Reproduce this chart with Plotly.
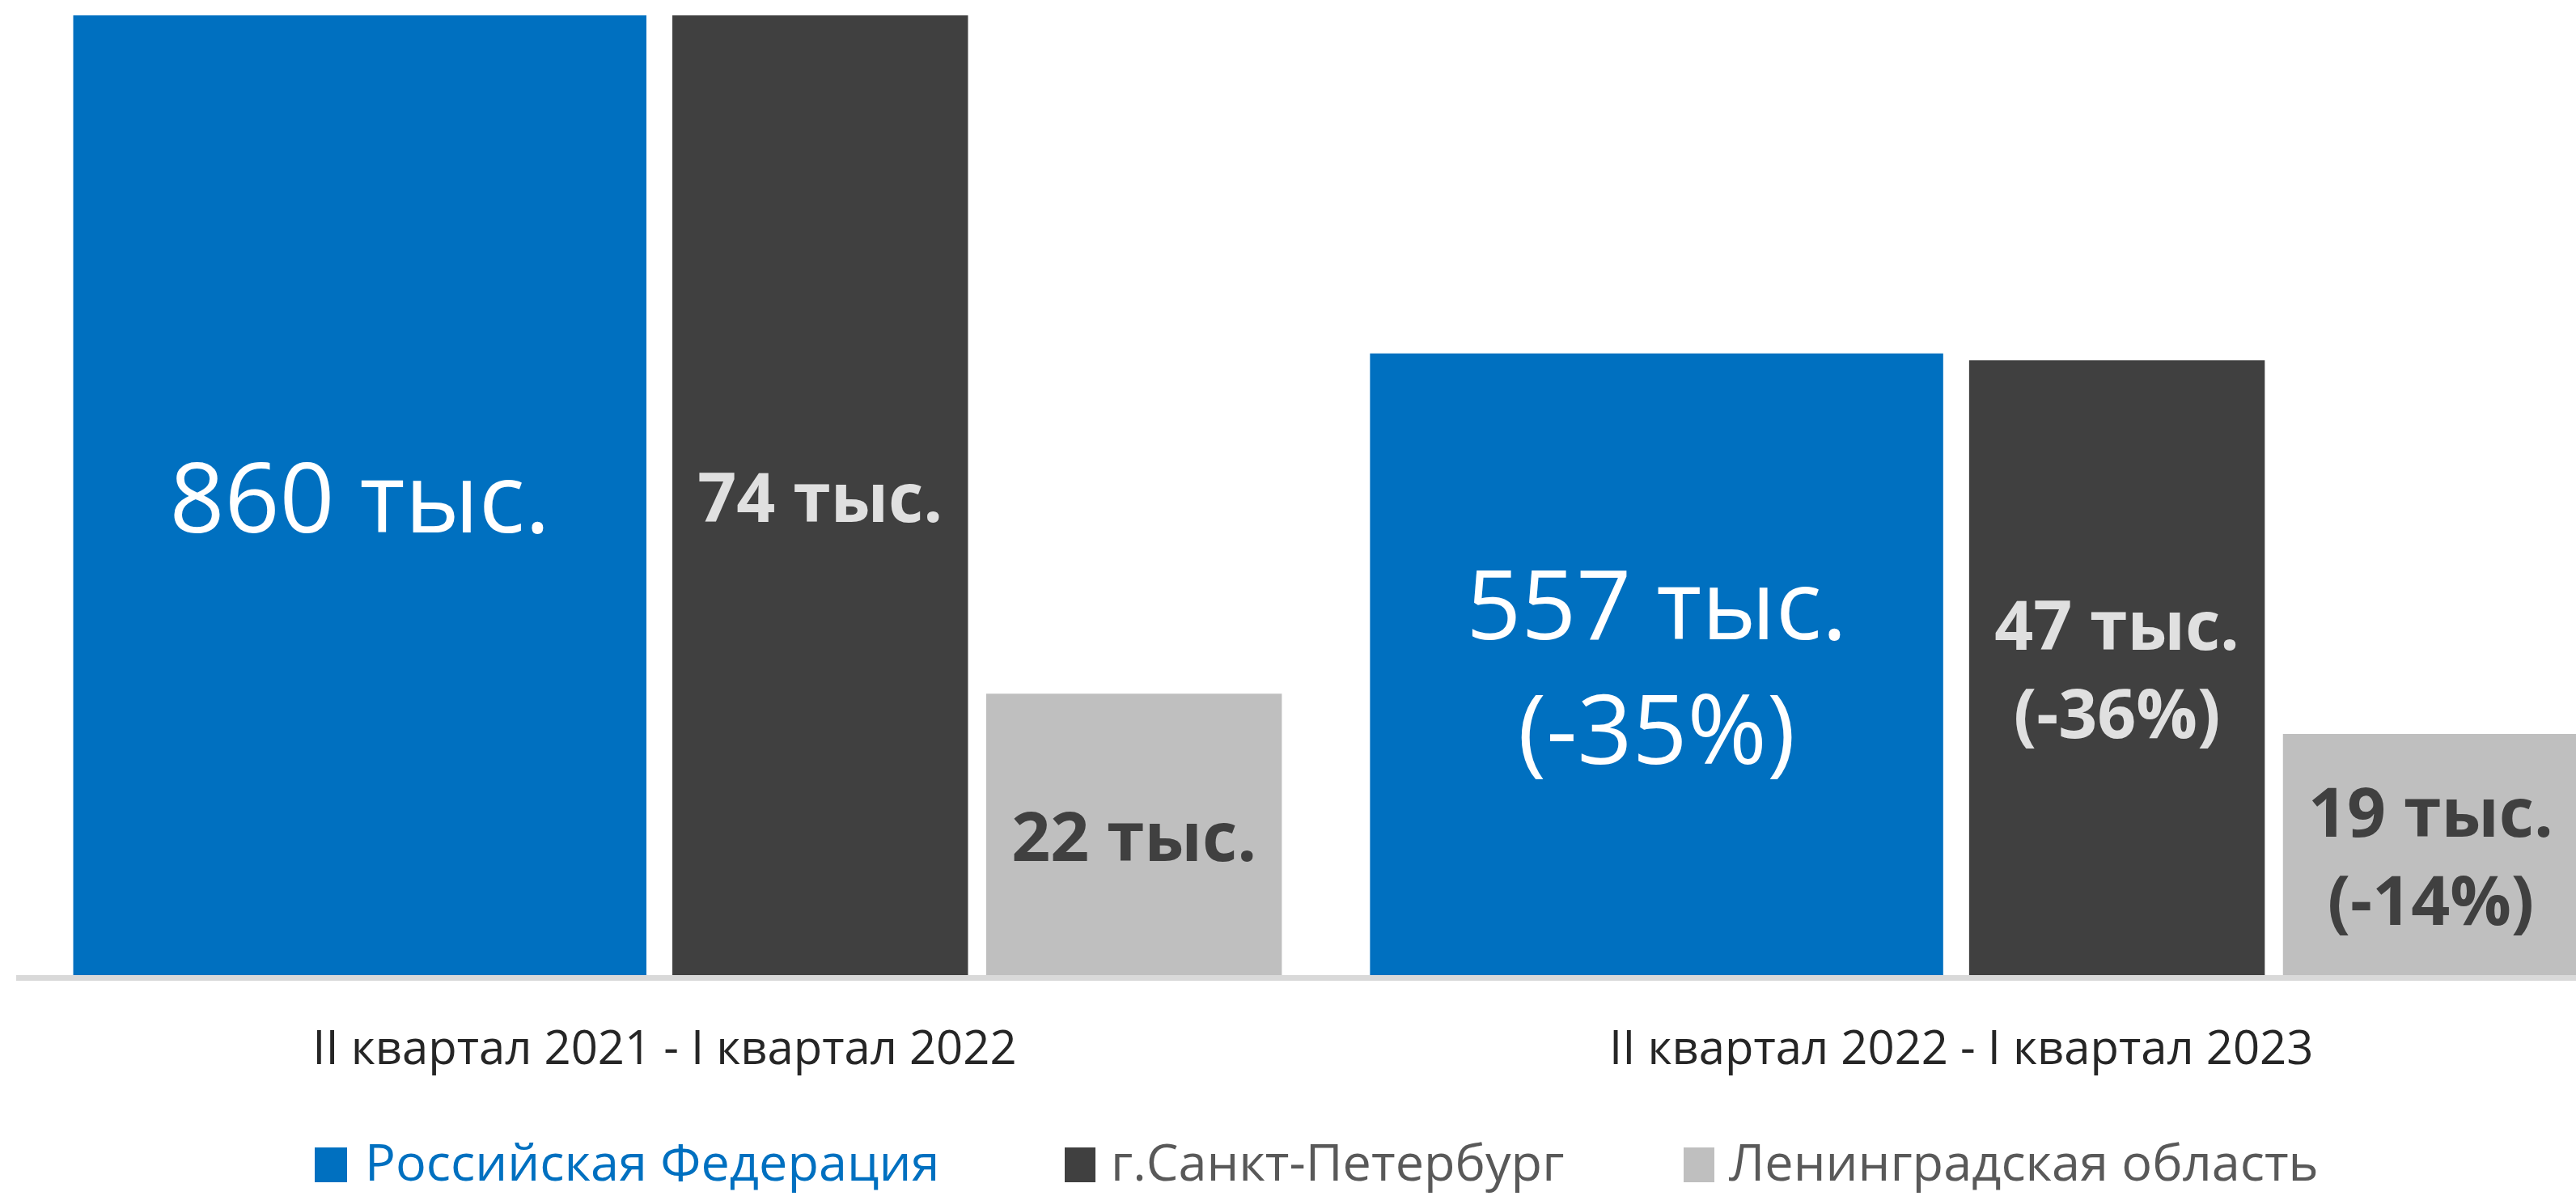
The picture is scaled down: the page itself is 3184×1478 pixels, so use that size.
import plotly.graph_objects as go

# ---- data ----
categories = ["II квартал 2021 - I квартал 2022", "II квартал 2022 - I квартал 2023"]
series_names = ["Российская Федерация", "г.Санкт-Петербург", "Ленинградская область"]
rf_values = [860, 557]          # тыс.
spb_values = [74, 47.4]         # тыс.
lo_values = [21.7, 18.6]        # тыс.
rf_labels = ["860 тыс.", "557 тыс.<br>(-35%)"]
spb_labels = ["74 тыс.", "47 тыс.<br>(-36%)"]
lo_labels = ["22 тыс.", "19 тыс.<br>(-14%)"]

# ---- styles ----
W, H = 3184, 1478
PL, PR, PT, PB = 20, 0, 19, 273          # plot area margins (px)
PW, PH = W - PL - PR, H - PT - PB
FONT = "Open Sans"
C_RF, C_SPB, C_LO = "#0070C0", "#404040", "#BFBFBF"

xpos = list(range(len(categories)))

fig = go.Figure()
fig.add_trace(go.Bar(
    x=xpos, y=rf_values, yaxis="y2", name=series_names[0],
    offset=-0.456, width=0.442, marker=dict(color=C_RF, line=dict(width=0)),
    text=rf_labels, textposition="inside", insidetextanchor="middle", textangle=0,
    insidetextfont=dict(family=FONT, size=119, color="#FFFFFF"),
    showlegend=False, hoverinfo="skip", cliponaxis=True,
))
fig.add_trace(go.Bar(
    x=xpos, y=spb_values, yaxis="y", name=series_names[1],
    offset=0.006, width=0.228, marker=dict(color=C_SPB, line=dict(width=0)),
    text=spb_labels, textposition="inside", insidetextanchor="middle", textangle=0,
    insidetextfont=dict(family=FONT, size=84, color="#E0E0E0", weight="bold"),
    showlegend=False, hoverinfo="skip",
))
fig.add_trace(go.Bar(
    x=xpos, y=lo_values, yaxis="y", name=series_names[2],
    offset=0.248, width=0.228, marker=dict(color=C_LO, line=dict(width=0)),
    text=lo_labels, textposition="inside", insidetextanchor="middle", textangle=0,
    insidetextfont=dict(family=FONT, size=84, color="#404040", weight="bold"),
    showlegend=False, hoverinfo="skip",
))

def px_x(x):
    return (x - PL) / PW

def px_y(y):
    return (H - PB - y) / PH

# manual legend (large square markers as in reference)
legend_items = [
    (389, 429, 450, C_RF, C_RF),
    (1316, 1354, 1372, C_SPB, "#595959"),
    (2081, 2119, 2136, C_LO, "#595959"),
]
shapes = []
annotations = []
for (sx0, sx1, tx, col, tcol), name in zip(legend_items, series_names):
    shapes.append(dict(type="rect", xref="paper", yref="paper",
                       x0=px_x(sx0), x1=px_x(sx1), y0=px_y(1461), y1=px_y(1418),
                       fillcolor=col, line=dict(width=0)))
    annotations.append(dict(xref="paper", yref="paper", x=px_x(tx), y=px_y(1434),
                            xanchor="left", yanchor="middle", showarrow=False,
                            borderpad=0,
                            text=name, font=dict(family=FONT, size=63, color=tcol)))

fig.update_layout(
    width=W, height=H,
    margin=dict(l=PL, r=PR, t=PT, b=PB, pad=0),
    paper_bgcolor="white", plot_bgcolor="white",
    barmode="overlay",
    font=dict(family=FONT),
    xaxis=dict(range=[-0.5, 1.474], tickmode="array", tickvals=xpos, ticktext=categories,
               showline=True, linecolor="#D9D9D9", linewidth=7, ticks="",
               showgrid=False, zeroline=False, fixedrange=True,
               tickfont=dict(family=FONT, size=58, color="#262626"),
               ticklabelstandoff=33),
    yaxis=dict(range=[0, 74], visible=False, showgrid=False, zeroline=False, fixedrange=True),
    yaxis2=dict(range=[0, 860], overlaying="y", visible=False, showgrid=False, zeroline=False,
                fixedrange=True),
    shapes=shapes,
    annotations=annotations,
    showlegend=False,
)

fig.write_html("out.html", config={"displayModeBar": False},
               post_script="document.body.style.margin='0';document.body.style.overflow='hidden';")
